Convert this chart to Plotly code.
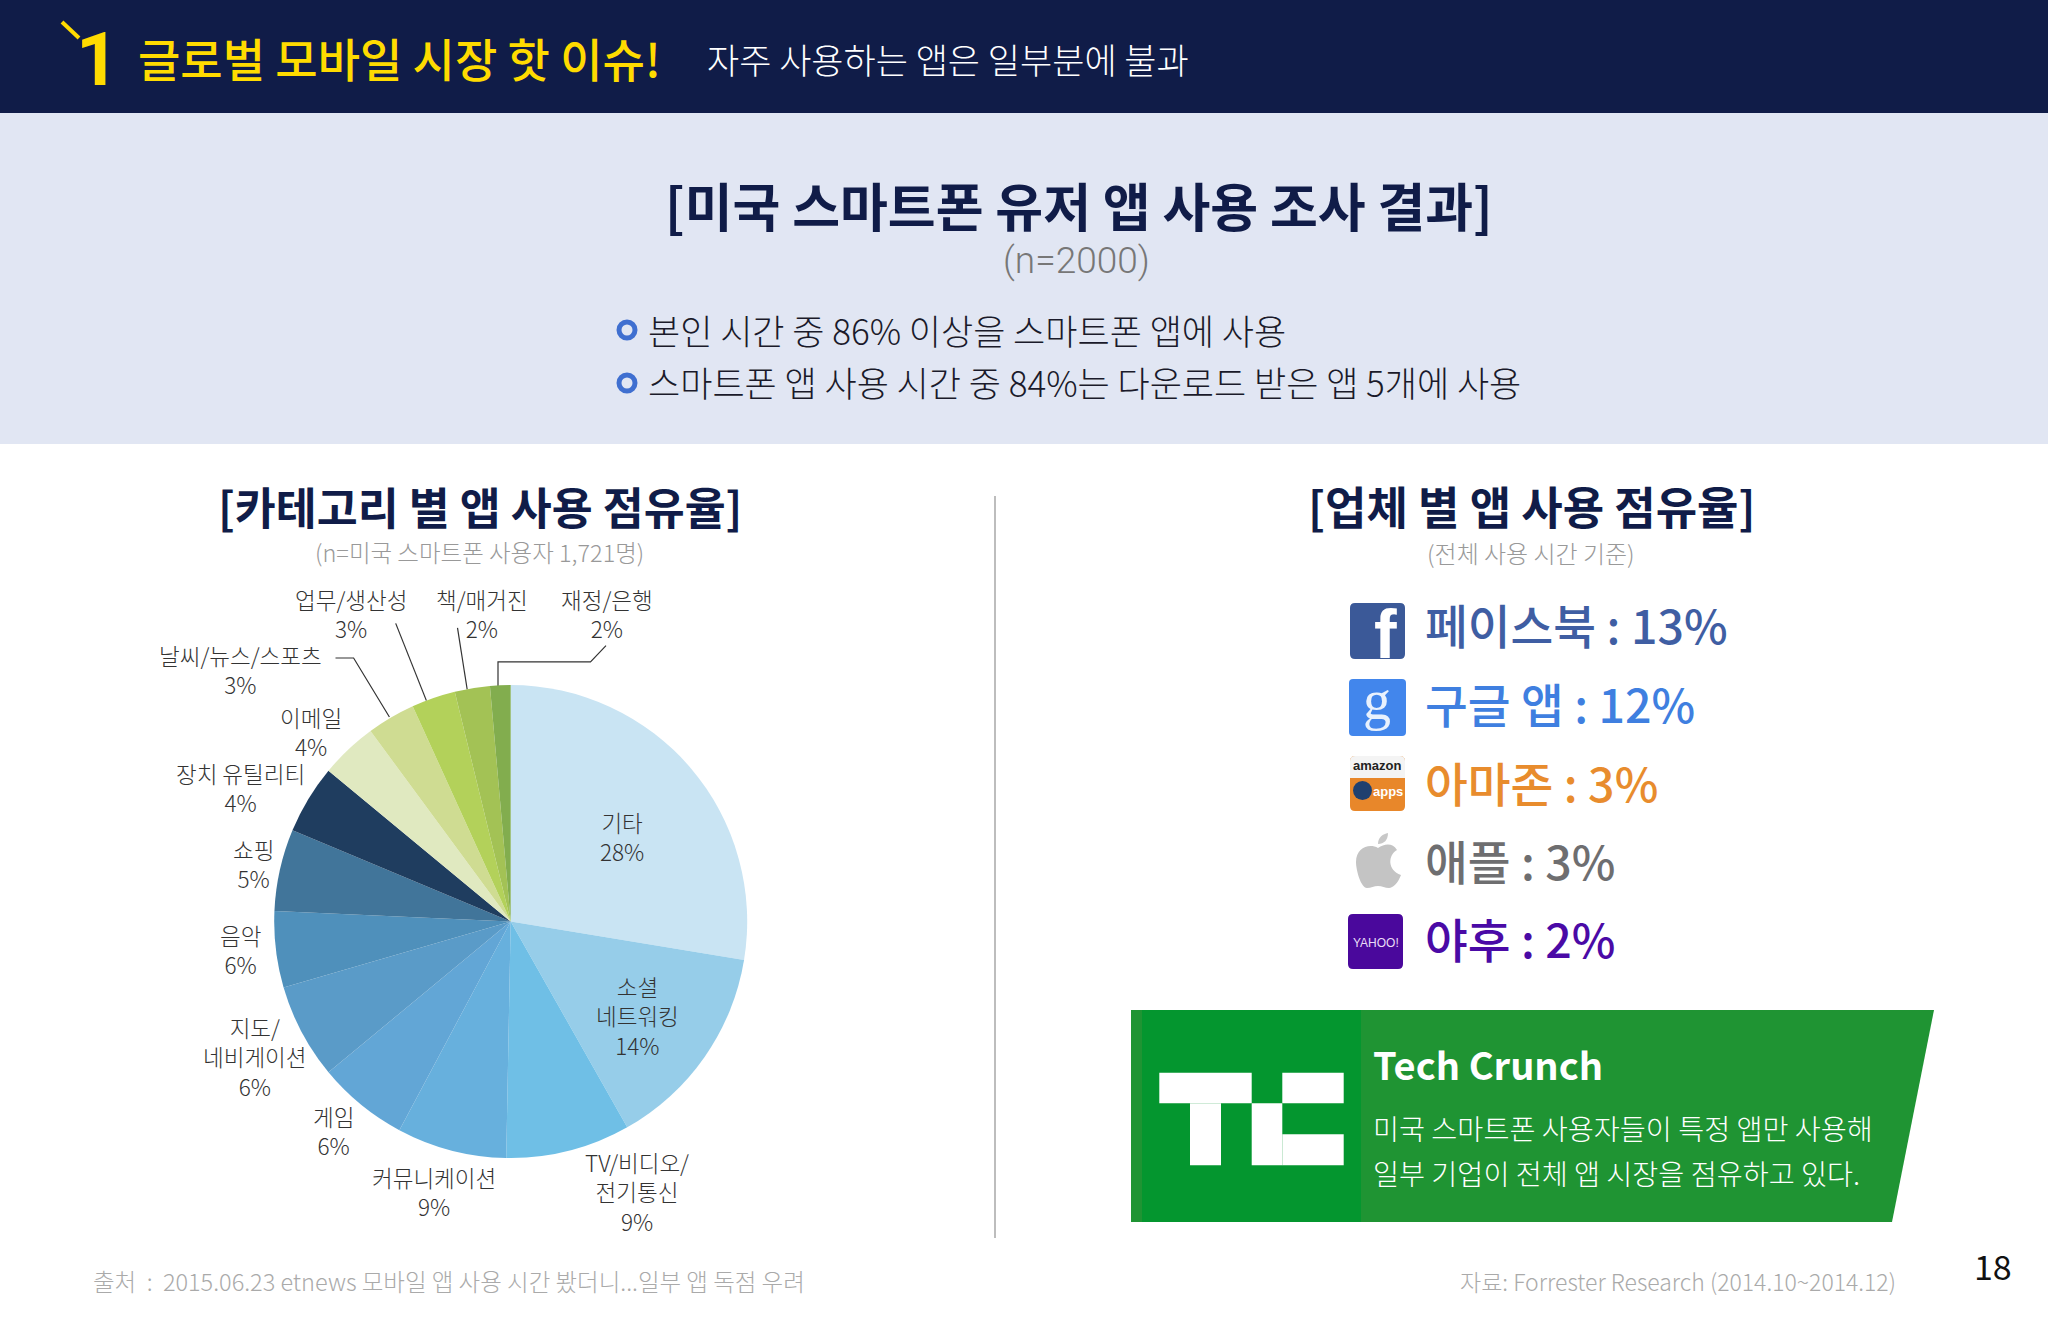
import re
import plotly.graph_objects as go

W, H = 2048, 1320
KR = "Noto Sans CJK KR"
NAVY = "#101c48"

cats = ["기타", "소셜\n네트워킹", "TV/비디오/\n전기통신", "커뮤니케이션", "게임", "지도/\n네비게이션",
        "음악", "쇼핑", "장치 유틸리티", "이메일", "날씨/뉴스/스포츠", "업무/생산성", "책/매거진", "재정/은행"]
pct = [28, 14, 9, 9, 6, 6, 6, 5, 4, 4, 3, 3, 2, 2]
shares = [27.6, 14.2, 8.5, 7.5, 6.2, 6.5, 5.2, 5.6, 4.7, 3.9, 3.3, 3.0, 2.4, 1.4]
colors = ["#c9e4f3", "#96cde9", "#6fbfe6", "#67b0dd", "#62a6d6", "#5a9bc8", "#4f90bb", "#41759a",
          "#1f3d5f", "#e0e9c0", "#cfdc92", "#b3d15a", "#a3c255", "#82ad4e"]
# centre of each label block, px
label_xy = [(622, 837), (637, 1015), (637, 1191), (434, 1191), (333, 1130), (255, 1056),
            (240, 949), (253, 863), (240, 787), (311, 731), (240, 669), (351, 614), (482, 614), (607, 614)]

# app share list on the right
vendors = ["페이스북 : 13%", "구글 앱 : 12%", "아마존 : 3%", "애플 : 3%", "야후 : 2%"]
vendor_colors = ["#3f5ea3", "#3f7fe0", "#e88c2d", "#6e6e70", "#4a0aa6"]
vendor_y = [623, 702, 781, 859, 937]


def px_x(x):
    return x / W


def px_y(y):
    return 1 - y / H


def path(s):
    # svg path written in page pixels -> paper coords
    out, i = [], 0
    for tok in re.findall(r"[A-Za-z]|-?[\d.]+", s):
        if tok.isalpha():
            out.append(tok)
        else:
            v = float(tok)
            out.append(str(px_x(v) if i % 2 == 0 else px_y(v)))
            i += 1
    return " ".join(out)


def rrect(x0, y0, x1, y1, r):
    return (f"M {x0+r} {y0} L {x1-r} {y0} Q {x1} {y0} {x1} {y0+r} L {x1} {y1-r} Q {x1} {y1} {x1-r} {y1} "
            f"L {x0+r} {y1} Q {x0} {y1} {x0} {y1-r} L {x0} {y0+r} Q {x0} {y0} {x0+r} {y0} Z")


shapes, notes = [], []


def rect(x0, y0, x1, y1, color):
    shapes.append(dict(type="rect", xref="paper", yref="paper", x0=px_x(x0), x1=px_x(x1), y0=px_y(y0), y1=px_y(y1),
                       fillcolor=color, line_width=0, layer="below"))


def fill(s, color):
    shapes.append(dict(type="path", xref="paper", yref="paper", path=path(s), fillcolor=color, line_width=0,
                       layer="below"))


def stroke(s, color, width):
    shapes.append(dict(type="path", xref="paper", yref="paper", path=path(s), line=dict(color=color, width=width),
                       layer="below"))


def text(x, y, s, size, color, anchor="center", weight=400, family=KR):
    notes.append(dict(xref="paper", yref="paper", x=px_x(x), y=px_y(y), text=s, showarrow=False, xanchor=anchor,
                      yanchor="middle", borderpad=0, font=dict(family=family, size=size, color=color, weight=weight)))


# bands
rect(0, 0, W, 113, NAVY)
rect(0, 113, W, 444, "#e1e6f3")
rect(994, 496, 996, 1238, "#bdbdbd")

# header
stroke("M 62 22 L 79 38", "#ffdb00", 4)
text(97, 59, "1", 75, "#ffdb00", weight=700, family="Roboto")
text(137, 57, "글로벌 모바일 시장 핫 이슈!", 46, "#ffdb00", "left", 500)
text(706, 59, "자주 사용하는 앱은 일부분에 불과", 35, "#ffffff", "left", 300)

# survey box
text(1079, 205, "[미국 스마트폰 유저 앱 사용 조사 결과]", 52, NAVY, weight=700)
text(1076, 260, "(n=2000)", 37, "#777777", weight=300, family="Roboto")
for yy, s in [(330, "본인 시간 중 86% 이상을 스마트폰 앱에 사용"), (383, "스마트폰 앱 사용 시간 중 84%는 다운로드 받은 앱 5개에 사용")]:
    shapes.append(dict(type="circle", xref="paper", yref="paper", x0=px_x(619), x1=px_x(635), y0=px_y(yy+8), y1=px_y(yy-8),
                       fillcolor="rgba(0,0,0,0)", line=dict(color="#3f6fd0", width=5), layer="below"))
    text(647, yy - 1, s, 35, "#1a1a2a", "left", 300)

# section titles
text(480, 506, "[카테고리 별 앱 사용 점유율]", 44.5, NAVY, weight=700)
text(479, 552, "(n=미국 스마트폰 사용자 1,721명)", 23.5, "#999999", weight=300)
text(1531, 506, "[업체 별 앱 사용 점유율]", 45, NAVY, weight=700)
text(1531, 552, "(전체 사용 시간 기준)", 24, "#999999", weight=300)

# pie labels
for name, p, (cx, cy) in zip(cats, pct, label_xy):
    text(cx, cy, "<br>".join(name.split("\n") + [f"{p}%"]), 22.5, "#333333", weight=300)

# leader lines
stroke("M 335.5 658 L 353.6 658 L 389.4 717", "#333333", 1.2)
stroke("M 395.7 623.4 L 426.4 700.6", "#333333", 1.2)
stroke("M 457.5 627.9 L 467.2 689.5", "#333333", 1.2)
stroke("M 606 645.7 L 590.5 661.8 L 498 661.8 L 498 686", "#333333", 1.2)

# vendor list
for s, c, yy in zip(vendors, vendor_colors, vendor_y):
    text(1424, yy, s, 46.5, c, "left", 500)

# facebook
fill(rrect(1350, 603, 1405, 659, 5), "#3b5998")
text(1385, 634, "f", 68, "#ffffff", weight=700, family="Liberation Sans")
# google
fill(rrect(1349, 679, 1406, 736, 4), "#4286ec")
text(1377, 700, "g", 56, "#e8f1fd", family="Liberation Serif")
# amazon apps
fill(rrect(1350, 756, 1405, 811, 5), "#e8872a")
fill("M 1350 778 L 1350 761 Q 1350 756 1355 756 L 1400 756 Q 1405 756 1405 761 L 1405 778 Z", "#f4f4f4")
text(1377, 765, "amazon", 13, "#222222", weight=700, family="Liberation Sans")
shapes.append(dict(type="circle", xref="paper", yref="paper", x0=px_x(1353), x1=px_x(1372), y0=px_y(800), y1=px_y(781),
                   fillcolor="#20406f", line_width=0, layer="below"))
text(1388, 791, "apps", 13, "#ffffff", weight=700, family="Liberation Sans")
# apple
fill("M 1378 848 C 1385 843 1393 843 1397 850 C 1388 855 1387 870 1401 875 C 1398 883 1393 888 1389 888 "
     "C 1385 888 1382 886 1378 886 C 1374 886 1371 888 1367 888 C 1361 888 1356 870 1356 862 "
     "C 1356 848 1369 843 1378 848 Z", "#c4c4c4")
fill("M 1378 844 C 1378 837 1383 834 1388 833 C 1388 840 1384 844 1378 844 Z", "#c8c8c8")
# yahoo
fill(rrect(1348, 914, 1403, 969, 5), "#4a089c")
text(1376, 943, "YAHOO!", 12, "#e9dcf7", family="Liberation Sans")

# tech crunch box
fill("M 1131 1010 L 1934 1010 L 1892 1222 L 1131 1222 Z", "#1f9433")
rect(1142, 1010, 1361, 1222, "#04962f")
rect(1159.3, 1072.7, 1251.7, 1103.3, "#ffffff")
rect(1190, 1103.3, 1221, 1165.3, "#ffffff")
rect(1251.7, 1103.3, 1282.3, 1165.3, "#ffffff")
rect(1282.3, 1072.7, 1343.7, 1103.3, "#ffffff")
rect(1282.3, 1134.3, 1343.7, 1165.3, "#ffffff")
text(1372, 1063, "Tech Crunch", 38, "#ffffff", "left", 700)
text(1372, 1127, "미국 스마트폰 사용자들이 특정 앱만 사용해", 28.3, "#ffffff", "left", 300)
text(1372, 1172, "일부 기업이 전체 앱 시장을 점유하고 있다.", 28.3, "#ffffff", "left", 300)

# footer
text(92, 1281, "출처  :  2015.06.23 etnews 모바일 앱 사용 시간 봤더니...일부 앱 독점 우려", 23.5, "#aaaaaa", "left", 300)
text(1897, 1281, "자료: Forrester Research (2014.10~2014.12)", 23, "#aaaaaa", "right", 300)
text(1993, 1265, "18", 34, "#111111")

pie = go.Pie(labels=[c.replace("\n", " ") for c in cats], values=shares, marker=dict(colors=colors, line=dict(width=0)),
             sort=False, direction="clockwise", rotation=0, textinfo="none", showlegend=False,
             domain=dict(x=[px_x(274.2), px_x(747.2)], y=[px_y(1158), px_y(685)]))

fig = go.Figure(pie)
fig.update_layout(width=W, height=H, margin=dict(l=0, r=0, t=0, b=0), paper_bgcolor="#ffffff",
                  shapes=shapes, annotations=notes, font=dict(family=KR))
# the page's default body margin would push the slide off the window edge
fig.write_html("out.html", config=dict(displayModeBar=False), post_script="document.body.style.margin='0';")
